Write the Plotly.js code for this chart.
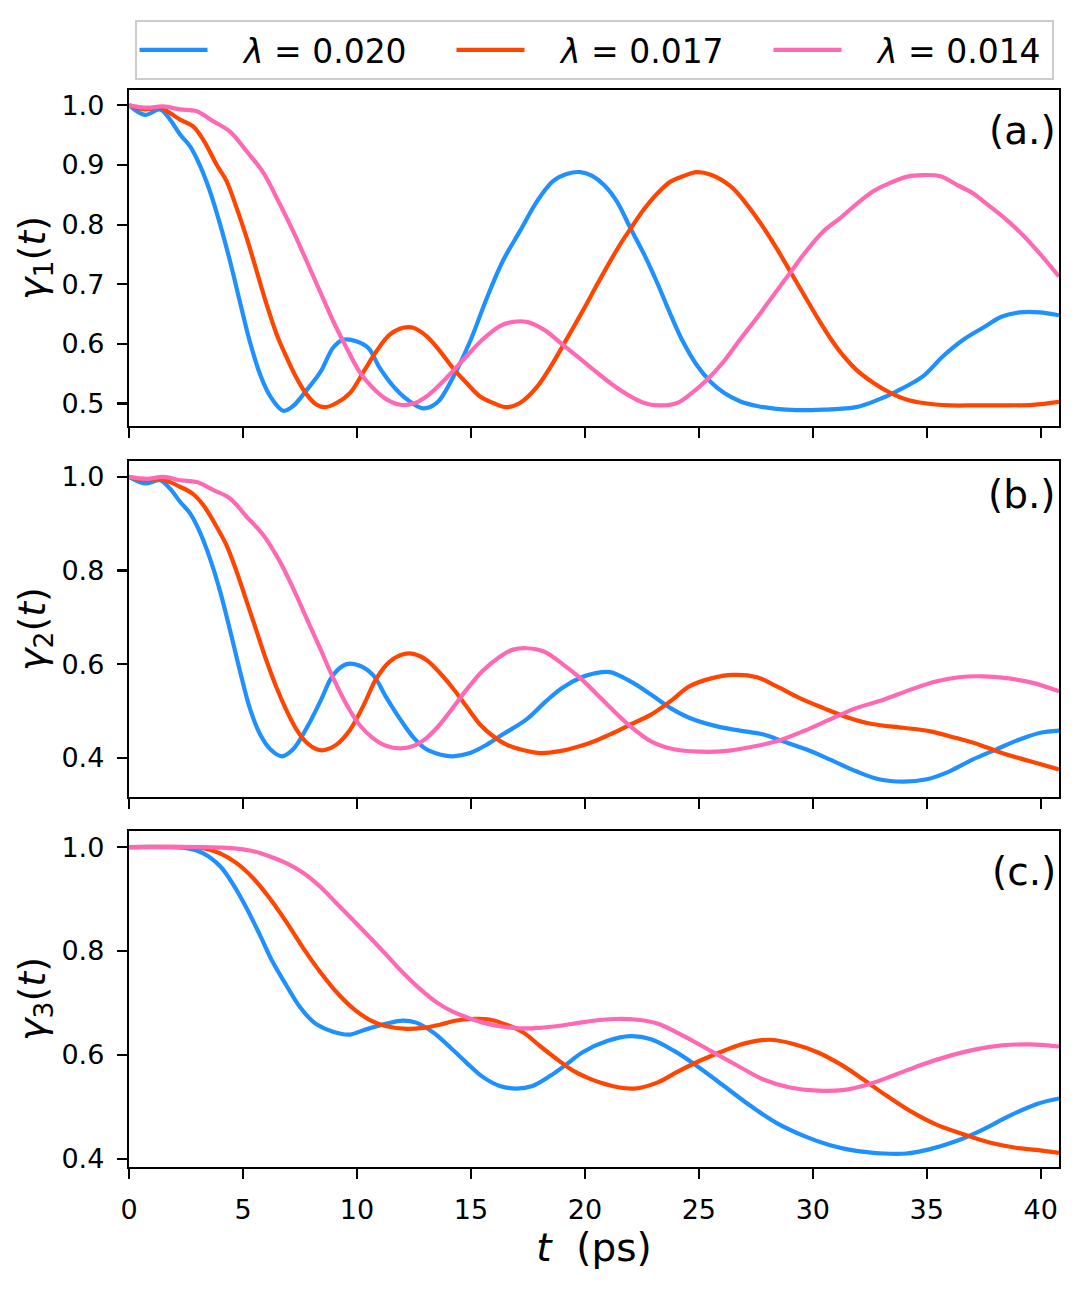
<!DOCTYPE html>
<html>
<head>
<meta charset="utf-8">
<script src="https://cdn.plot.ly/plotly-3.0.1.min.js"></script>
<style>
  body { margin: 0; background: #ffffff; }
  #plot { width: 1082px; height: 1291px; }
</style>
</head>
<body>
<div id="plot"></div>
<script>
"use strict";

// panel (a.) gamma_1(t)
const tA020 = [0, 0.7, 1.36, 1.8, 2.24, 2.68, 3.1, 3.55, 4.0, 4.43, 4.87, 5.3, 5.75, 6.2, 6.77, 7.2, 7.8, 8.4, 8.96, 9.4, 10.0, 10.5, 11.0, 11.6, 12.2, 12.9, 13.5, 14.2, 14.96, 15.7, 16.4, 17.15, 17.9, 18.6, 19.2, 19.8, 20.3, 20.85, 21.4, 22.0, 22.6, 23.2, 23.76, 24.3, 24.9, 25.5, 26.1, 26.8, 27.55, 28.4, 29.3, 30.47, 31.9, 32.9, 33.7, 34.84, 35.7, 36.6, 37.46, 38.3, 39.07, 39.94, 40.8];
const gA020 = [1.0, 0.984, 0.993, 0.976, 0.951, 0.931, 0.9, 0.856, 0.8, 0.739, 0.67, 0.604, 0.549, 0.512, 0.488, 0.496, 0.523, 0.553, 0.594, 0.607, 0.604, 0.593, 0.56, 0.529, 0.507, 0.492, 0.501, 0.543, 0.604, 0.677, 0.739, 0.789, 0.839, 0.873, 0.885, 0.888, 0.882, 0.866, 0.839, 0.794, 0.75, 0.7, 0.649, 0.604, 0.565, 0.537, 0.518, 0.504, 0.496, 0.491, 0.489, 0.49, 0.494, 0.507, 0.521, 0.546, 0.579, 0.607, 0.627, 0.646, 0.653, 0.653, 0.648];

const tA017 = [0, 0.7, 1.36, 1.8, 2.24, 2.8, 3.26, 3.85, 4.28, 4.72, 5.16, 5.6, 6.04, 6.48, 6.92, 7.35, 7.8, 8.23, 8.6, 9.1, 9.7, 10.3, 10.86, 11.45, 12.03, 12.47, 13.05, 13.64, 14.2, 14.8, 15.4, 15.98, 16.56, 17.15, 17.9, 18.5, 19.2, 19.9, 20.5, 21.1, 21.6, 22.0, 22.6, 23.2, 23.76, 24.3, 24.9, 25.5, 26.4, 27.1, 27.8, 28.4, 29.0, 29.6, 30.2, 30.76, 31.3, 31.9, 32.65, 33.4, 34.1, 34.84, 36.0, 37.2, 38.3, 39.65, 40.8];
const gA017 = [1.0, 0.993, 0.996, 0.987, 0.976, 0.965, 0.942, 0.9, 0.873, 0.828, 0.778, 0.722, 0.666, 0.616, 0.577, 0.543, 0.515, 0.498, 0.494, 0.501, 0.518, 0.554, 0.588, 0.616, 0.627, 0.627, 0.613, 0.588, 0.56, 0.535, 0.512, 0.501, 0.494, 0.501, 0.528, 0.562, 0.608, 0.655, 0.697, 0.738, 0.77, 0.793, 0.826, 0.853, 0.872, 0.881, 0.888, 0.884, 0.864, 0.834, 0.797, 0.761, 0.722, 0.683, 0.644, 0.61, 0.582, 0.557, 0.535, 0.518, 0.507, 0.501, 0.497, 0.497, 0.497, 0.498, 0.503];

const tA014 = [0, 0.78, 1.5, 2.24, 2.97, 3.7, 4.43, 5.16, 5.89, 6.62, 7.2, 7.79, 8.38, 8.96, 9.55, 10.1, 10.7, 11.3, 11.9, 12.47, 13.05, 13.64, 14.2, 14.8, 15.5, 16.27, 16.85, 17.44, 18.2, 19.05, 19.8, 20.5, 21.2, 22.0, 22.6, 23.2, 24.05, 24.6, 25.36, 26.1, 26.8, 27.55, 28.3, 29.0, 29.7, 30.47, 31.2, 31.9, 32.65, 33.4, 34.1, 34.84, 35.6, 36.3, 37.0, 37.75, 38.5, 39.2, 39.94, 40.8];
const gA014 = [1.0, 0.996, 0.998, 0.993, 0.99, 0.973, 0.956, 0.923, 0.887, 0.834, 0.789, 0.739, 0.688, 0.638, 0.593, 0.554, 0.526, 0.507, 0.498, 0.5, 0.512, 0.532, 0.554, 0.579, 0.607, 0.63, 0.637, 0.637, 0.624, 0.598, 0.575, 0.553, 0.532, 0.512, 0.501, 0.497, 0.501, 0.515, 0.54, 0.571, 0.607, 0.644, 0.683, 0.719, 0.755, 0.789, 0.811, 0.834, 0.856, 0.87, 0.88, 0.883, 0.881, 0.867, 0.853, 0.831, 0.808, 0.783, 0.752, 0.713];

// panel (b.) gamma_2(t)
const tB020 = [0, 0.7, 1.36, 1.8, 2.24, 2.68, 3.1, 3.55, 4.0, 4.43, 4.87, 5.3, 5.75, 6.2, 6.7, 7.2, 7.8, 8.4, 8.96, 9.55, 10.1, 10.7, 11.3, 11.9, 12.5, 13.05, 13.64, 14.2, 14.96, 15.7, 16.4, 17.44, 18.3, 19.0, 19.8, 20.4, 21.1, 22.0, 22.9, 23.76, 24.6, 25.8, 26.8, 27.8, 28.7, 29.7, 30.76, 31.9, 32.9, 33.97, 35.0, 36.0, 37.0, 38.05, 39.07, 39.94, 40.8];
const gB020 = [1.0, 0.986, 0.993, 0.975, 0.947, 0.922, 0.883, 0.826, 0.755, 0.673, 0.585, 0.506, 0.45, 0.418, 0.403, 0.418, 0.464, 0.521, 0.577, 0.6, 0.597, 0.577, 0.528, 0.482, 0.442, 0.418, 0.407, 0.403, 0.41, 0.428, 0.45, 0.482, 0.521, 0.549, 0.571, 0.58, 0.583, 0.563, 0.535, 0.506, 0.485, 0.467, 0.458, 0.45, 0.435, 0.418, 0.396, 0.371, 0.354, 0.349, 0.354, 0.371, 0.396, 0.418, 0.439, 0.453, 0.458];

const tB017 = [0, 0.7, 1.36, 1.8, 2.24, 2.8, 3.26, 3.85, 4.28, 4.72, 5.16, 5.6, 6.04, 6.48, 6.92, 7.35, 7.8, 8.23, 8.52, 9.1, 9.7, 10.3, 10.86, 11.45, 12.03, 12.47, 13.05, 13.64, 14.2, 14.8, 15.4, 15.98, 16.56, 17.15, 18.0, 18.9, 19.8, 20.5, 21.2, 22.0, 22.9, 23.76, 24.6, 25.5, 26.5, 27.55, 28.4, 29.4, 30.47, 31.6, 32.6, 33.97, 35.1, 36.3, 37.3, 38.3, 39.5, 40.8];
const gB017 = [1.0, 0.993, 0.996, 0.989, 0.979, 0.964, 0.94, 0.893, 0.854, 0.798, 0.734, 0.67, 0.606, 0.549, 0.5, 0.46, 0.432, 0.418, 0.416, 0.428, 0.46, 0.513, 0.57, 0.606, 0.621, 0.622, 0.609, 0.581, 0.549, 0.51, 0.471, 0.446, 0.428, 0.418, 0.41, 0.414, 0.425, 0.437, 0.452, 0.471, 0.492, 0.521, 0.553, 0.569, 0.577, 0.572, 0.553, 0.528, 0.506, 0.485, 0.472, 0.464, 0.457, 0.442, 0.428, 0.41, 0.393, 0.375];

const tB014 = [0, 0.78, 1.5, 2.24, 2.97, 3.7, 4.43, 5.16, 5.89, 6.62, 7.2, 7.79, 8.38, 8.96, 9.55, 10.1, 10.7, 11.3, 11.9, 12.47, 13.05, 13.64, 14.2, 14.8, 15.5, 16.27, 16.85, 17.44, 18.2, 19.05, 19.8, 20.5, 21.1, 22.0, 22.9, 23.9, 25.07, 26.1, 27.3, 28.4, 29.6, 30.76, 31.9, 33.1, 34.26, 35.4, 36.4, 37.46, 38.5, 39.65, 40.8];
const gB014 = [1.0, 0.996, 1.0, 0.993, 0.989, 0.972, 0.954, 0.915, 0.876, 0.819, 0.762, 0.698, 0.634, 0.57, 0.513, 0.471, 0.442, 0.425, 0.42, 0.425, 0.442, 0.471, 0.506, 0.545, 0.585, 0.616, 0.631, 0.634, 0.627, 0.599, 0.57, 0.537, 0.508, 0.467, 0.435, 0.418, 0.413, 0.414, 0.423, 0.435, 0.457, 0.482, 0.506, 0.524, 0.545, 0.563, 0.572, 0.574, 0.57, 0.56, 0.542];

// panel (c.) gamma_3(t)
const tC020 = [0, 1.5, 2.53, 3.26, 4.0, 4.58, 5.16, 5.75, 6.3, 6.9, 7.5, 8.1, 8.67, 9.25, 9.7, 10.4, 11.3, 12.0, 12.6, 13.35, 14.1, 14.8, 15.5, 16.27, 17.0, 17.7, 18.5, 19.2, 19.9, 21.0, 22.0, 22.9, 23.9, 24.9, 26.1, 27.26, 28.4, 29.6, 30.76, 31.9, 33.1, 34.1, 35.1, 36.3, 37.46, 38.6, 39.8, 40.8];
const gC020 = [1.0, 1.0, 0.998, 0.988, 0.963, 0.927, 0.882, 0.83, 0.779, 0.734, 0.692, 0.663, 0.649, 0.641, 0.639, 0.649, 0.66, 0.666, 0.662, 0.643, 0.614, 0.585, 0.558, 0.54, 0.535, 0.54, 0.56, 0.582, 0.605, 0.627, 0.636, 0.63, 0.608, 0.579, 0.54, 0.502, 0.469, 0.444, 0.426, 0.415, 0.41, 0.41, 0.418, 0.434, 0.456, 0.482, 0.505, 0.516];

const tC017 = [0, 2.53, 3.26, 4.0, 4.72, 5.45, 6.18, 6.9, 7.65, 8.38, 9.1, 9.84, 10.57, 11.3, 12.2, 12.9, 13.64, 14.37, 15.1, 15.8, 16.56, 17.3, 18.0, 18.76, 19.5, 20.1, 20.7, 21.4, 22.16, 23.2, 24.05, 25.07, 26.1, 27.1, 28.1, 29.15, 30.2, 31.2, 32.2, 33.24, 34.26, 35.4, 36.6, 37.75, 38.9, 39.8, 40.8];
const gC017 = [1.0, 1.0, 0.998, 0.988, 0.969, 0.94, 0.901, 0.856, 0.805, 0.76, 0.721, 0.689, 0.667, 0.655, 0.65, 0.652, 0.658, 0.666, 0.669, 0.668, 0.658, 0.643, 0.618, 0.592, 0.569, 0.556, 0.546, 0.538, 0.535, 0.547, 0.567, 0.589, 0.608, 0.623, 0.629, 0.621, 0.605, 0.582, 0.553, 0.521, 0.492, 0.466, 0.447, 0.431, 0.421, 0.417, 0.411];

const tC014 = [0, 3.26, 4.0, 4.72, 5.45, 6.18, 6.9, 7.65, 8.38, 9.1, 9.84, 10.57, 11.3, 12.0, 12.76, 13.5, 14.2, 14.96, 15.7, 16.4, 17.15, 18.0, 18.9, 19.8, 20.66, 21.4, 22.2, 23.2, 24.3, 25.5, 26.7, 27.8, 29.0, 30.2, 31.3, 32.5, 33.7, 34.84, 36.0, 37.2, 38.3, 39.5, 40.8];
const gC014 = [1.0, 1.0, 0.999, 0.997, 0.992, 0.982, 0.969, 0.95, 0.924, 0.892, 0.859, 0.826, 0.792, 0.759, 0.727, 0.701, 0.683, 0.67, 0.66, 0.654, 0.651, 0.652, 0.656, 0.662, 0.667, 0.669, 0.668, 0.66, 0.637, 0.608, 0.579, 0.553, 0.537, 0.531, 0.532, 0.544, 0.563, 0.582, 0.598, 0.611, 0.618, 0.62, 0.616];

const lambdaNames = ["<i>λ</i> = 0.020", "<i>λ</i> = 0.017", "<i>λ</i> = 0.014"];
const panelLabels = ["(a.)", "(b.)", "(c.)"];
const yTitles = [
  "<i>γ</i><sub>1</sub>(<i>t</i>)",
  "<i>γ</i><sub>2</sub>(<i>t</i>)",
  "<i>γ</i><sub>3</sub>(<i>t</i>)",
];
const xTickVals = [0, 5, 10, 15, 20, 25, 30, 35, 40];

const FONT = "DejaVu Sans, sans-serif";
const colors = ["#1e90ff", "#ff4500", "#ff69b4"];

const panels = [
  [[tA020, gA020], [tA017, gA017], [tA014, gA014]],
  [[tB020, gB020], [tB017, gB017], [tB014, gB014]],
  [[tC020, gC020], [tC017, gC017], [tC014, gC014]],
];

const data = [];
panels.forEach((series, p) => {
  series.forEach(([t, g], k) => {
    data.push({
      x: t,
      y: g,
      xaxis: p === 0 ? "x" : "x" + (p + 1),
      yaxis: p === 0 ? "y" : "y" + (p + 1),
      type: "scatter",
      mode: "lines",
      // the gap between the legend line and its text
      name: "&nbsp;&nbsp;&nbsp;" + lambdaNames[k],
      legendgroup: "l" + k,
      showlegend: p === 0,
      legendwidth: k === 2 ? 200 : 234,
      line: { color: colors[k], width: 4.2, shape: "spline", smoothing: 1 },
      hoverinfo: "skip",
    });
  });
});

function axisStyle(extra) {
  return Object.assign(
    {
      showline: true,
      mirror: true,
      linecolor: "black",
      linewidth: 2.2,
      ticks: "outside",
      ticklen: 10,
      tickwidth: 2.2,
      tickcolor: "black",
      showgrid: false,
      zeroline: false,
      tickfont: { family: FONT, size: 27, color: "black" },
      ticklabelstandoff: 7,
    },
    extra,
  );
}

// plot area is 129..1059 px wide, panels 336 px tall
const yDomains = [
  [0.688, 1],
  [0.3435, 0.6555],
  [0, 0.312],
];
const yRanges = [
  [0.4624, 1.0256],
  [0.316, 1.034],
  [0.384, 1.031],
];
const yDticks = [0.1, 0.2, 0.2];
const labelY = [0.88, 0.9, 0.88];

const layout = {
  width: 1082,
  height: 1291,
  margin: { l: 129, r: 23, t: 90, b: 124 },
  paper_bgcolor: "white",
  plot_bgcolor: "white",
  font: { family: FONT, color: "black" },
  showlegend: true,
  legend: {
    orientation: "h",
    x: 0.5,
    xanchor: "center",
    y: 1.065,
    yanchor: "top",
    bordercolor: "#cccccc",
    borderwidth: 2,
    bgcolor: "white",
    font: { family: FONT, size: 33, color: "black" },
    itemwidth: 68,
    entrywidthmode: "pixels",
  },
  annotations: [],
};

for (let p = 0; p < 3; p++) {
  const s = p === 0 ? "" : String(p + 1);
  layout["xaxis" + s] = axisStyle({
    domain: [0, 1],
    anchor: "y" + s,
    range: [0, 40.8],
    tickvals: xTickVals,
    showticklabels: p === 2,
    matches: p === 0 ? undefined : "x",
  });
  layout["yaxis" + s] = axisStyle({
    domain: yDomains[p],
    anchor: "x" + s,
    range: yRanges[p],
    dtick: yDticks[p],
    tick0: 0,
    tickformat: ".1f",
    title: {
      text: yTitles[p],
      font: { family: FONT, size: 38, color: "black" },
      standoff: 4,
    },
  });
  layout.annotations.push({
    text: panelLabels[p],
    xref: "x" + s + " domain",
    yref: "y" + s + " domain",
    x: 0.9985,
    y: labelY[p],
    xanchor: "right",
    yanchor: "middle",
    showarrow: false,
    font: { family: FONT, size: 39, color: "black" },
  });
}

layout.xaxis3.title = {
  text: "<i>t</i>&nbsp; (ps)",
  font: { family: FONT, size: 39, color: "black" },
  standoff: 10,
};

const config = {
  responsive: false,
  displaylogo: false,
  displayModeBar: false,
  staticPlot: true,
};

Plotly.newPlot("plot", data, layout, config);
</script>
</body>
</html>
